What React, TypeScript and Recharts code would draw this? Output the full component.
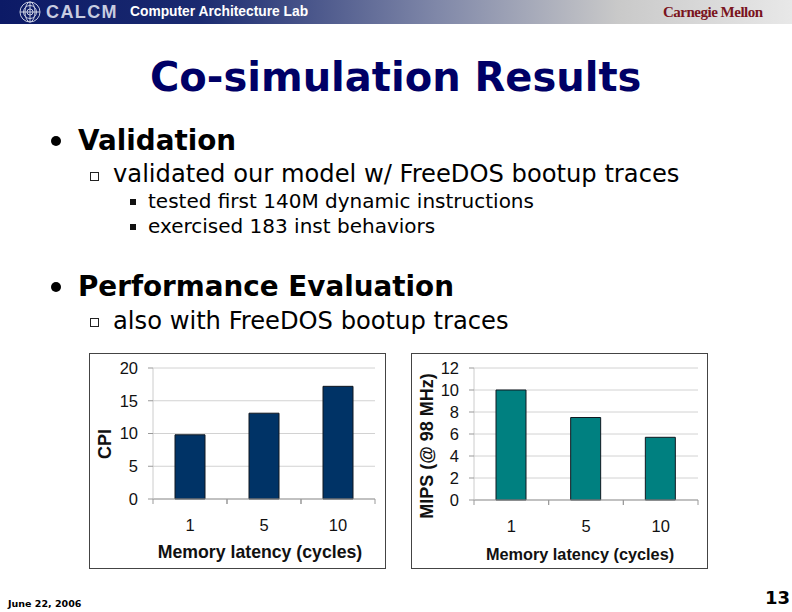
import React from 'react';
import { BarChart, Bar, CartesianGrid, XAxis, YAxis } from 'recharts';

const latencies = ['1', '5', '10'];
const cpiValues = [9.8, 13.1, 17.2];
const mipsValues = [10, 7.5, 5.7];
const cpiTicks = [0, 5, 10, 15, 20];
const mipsTicks = [0, 2, 4, 6, 8, 10, 12];

const cpiData = latencies.map((name, i) => ({ name, value: cpiValues[i] }));
const mipsData = latencies.map((name, i) => ({ name, value: mipsValues[i] }));

const SANS = '"Liberation Sans", Arial, sans-serif';
const SLIDE = '"DejaVu Sans", Verdana, sans-serif';

// category ticks sit between the bars, excel style
const CategoryTick = (props: any) => {
  const { x, y, payload, step } = props;
  return (
    <g>
      <line x1={x - step / 2} x2={x - step / 2} y1={y - 8} y2={y - 3} stroke="#999" />
      <line x1={x + step / 2} x2={x + step / 2} y1={y - 8} y2={y - 3} stroke="#999" />
      <text x={x} y={y + 24} textAnchor="middle" fontFamily={SANS} fontSize={16.5} fill="#111">
        {payload.value}
      </text>
    </g>
  );
};

interface PanelProps {
  left: number;
  data: { name: string; value: number }[];
  ticks: number[];
  max: number;
  fill: string;
  yLabel: string;
  xLabelSize: number;
  xLabelPos: { x: number; y: number };
  yLabelPos: { x: number; y: number };
  plotLeft: number;
  plotRight: number;
  plotBottom: number;
}

const Panel: React.FC<PanelProps> = ({ left, data, ticks, max, fill, yLabel, xLabelSize, xLabelPos, yLabelPos, plotLeft, plotRight, plotBottom }) => {
  const step = (297 - plotLeft - plotRight) / latencies.length;
  return (
    <div style={{ position: 'absolute', left, top: 353, width: 297, height: 216 }}>
      <div style={{ position: 'absolute', inset: 0, boxSizing: 'border-box', border: '1.5px solid #444' }} />
      <BarChart
        width={297}
        height={216}
        data={data}
        barSize={30}
        margin={{ top: 15, right: plotRight, bottom: 0, left: 0 }}
        style={{ position: 'absolute', left: 0, top: 0 }}
      >
        <CartesianGrid horizontal vertical={false} stroke="#d2d2d2" />
        <XAxis
          dataKey="name"
          height={plotBottom}
          axisLine={{ stroke: '#999' }}
          tickLine={false}
          interval={0}
          tick={<CategoryTick step={step} />}
          label={{
            value: 'Memory latency (cycles)',
            position: xLabelPos,
            textAnchor: 'middle',
            fontFamily: SANS,
            fontSize: xLabelSize,
            fontWeight: 700,
            fill: '#111',
          }}
        />
        <YAxis
          width={plotLeft}
          domain={[0, max]}
          ticks={ticks}
          interval={0}
          axisLine={{ stroke: '#ccc' }}
          tickLine={{ stroke: '#999' }}
          tickSize={5}
          tickMargin={10}
          tick={{ fontFamily: SANS, fontSize: 16.5, fill: '#111' }}
          label={{
            value: yLabel,
            angle: -90,
            position: yLabelPos,
            textAnchor: 'middle',
            fontFamily: SANS,
            fontSize: 18,
            fontWeight: 700,
            fill: '#111',
          }}
        />
        <Bar dataKey="value" fill={fill} stroke="#101820" strokeWidth={1} isAnimationActive={false} />
      </BarChart>
    </div>
  );
};

const Line: React.FC<{ x: number; y: number; size: number; bold?: boolean; color?: string; font?: string; spacing?: number; children: React.ReactNode }> = ({ x, y, size, bold, color, font, spacing, children }) => (
  <div
    style={{
      position: 'absolute',
      left: x,
      top: y - size,
      height: size * 2,
      lineHeight: `${size * 2}px`,
      fontFamily: font || SLIDE,
      fontSize: size,
      fontWeight: bold ? 700 : 400,
      letterSpacing: spacing || 0,
      color: color || '#000',
      whiteSpace: 'nowrap',
    }}
  >
    {children}
  </div>
);

const Box: React.FC<{ x: number; y: number; size: number; hollow?: boolean }> = ({ x, y, size, hollow }) => (
  <div
    style={{
      position: 'absolute',
      left: x,
      top: y,
      width: size,
      height: size,
      boxSizing: 'border-box',
      background: hollow ? 'transparent' : '#111',
      border: hollow ? '1px solid #222' : 'none',
    }}
  />
);

const Dot: React.FC<{ x: number; y: number }> = ({ x, y }) => (
  <div style={{ position: 'absolute', left: x, top: y, width: 10, height: 10, borderRadius: 5, background: '#000' }} />
);

const App: React.FC = () => (
  <div style={{ position: 'absolute', left: 0, top: 0, width: 792, height: 612, background: '#fff', overflow: 'hidden' }}>
    <div
      style={{
        position: 'absolute',
        left: 0,
        top: 0,
        width: 792,
        height: 24,
        background: 'linear-gradient(90deg, #0c1a66 0%, #1a2a70 25%, #7f87a8 55%, #c9c9c9 78%, #e8e8e8 100%)',
      }}
    />
    <svg style={{ position: 'absolute', left: 19, top: 1 }} width={22} height={22}>
      <g fill="none" stroke="#c8cde0" strokeWidth={1}>
        <circle cx={11} cy={11} r={10} />
        <circle cx={11} cy={11} r={6.5} />
        <circle cx={11} cy={11} r={3} />
        <ellipse cx={11} cy={11} rx={5} ry={10} />
        <path d="M1 11H21M11 1V21" />
      </g>
    </svg>
    <Line x={46} y={12} size={18} bold color="#c8cce0" font={SANS} spacing={1.4}>CALCM</Line>
    <Line x={130} y={12} size={13.8} bold color="#fff" font={SANS}>Computer Architecture Lab</Line>
    <Line x={663} y={12} size={15} bold color="#7a1420" font='"Liberation Serif", serif' spacing={-0.5}>Carnegie Mellon</Line>

    <Line x={150} y={77} size={40} bold color="#000066">Co-simulation Results</Line>

    <Dot x={51} y={136} />
    <Line x={78} y={141} size={27.8} bold>Validation</Line>
    <Box x={90} y={172} size={9} hollow />
    <Line x={113} y={174} size={24.2}>validated our model w/ FreeDOS bootup traces</Line>
    <Box x={130} y={199} size={6} />
    <Line x={148} y={201} size={20}>tested first 140M dynamic instructions</Line>
    <Box x={130} y={224} size={6} />
    <Line x={148} y={226} size={20}>exercised 183 inst behaviors</Line>

    <Dot x={51} y={282} />
    <Line x={78} y={287} size={27.8} bold>Performance Evaluation</Line>
    <Box x={90} y={318} size={9} hollow />
    <Line x={113} y={321} size={24.2}>also with FreeDOS bootup traces</Line>

    <Panel
      left={89}
      data={cpiData}
      ticks={cpiTicks}
      max={20}
      fill="#003366"
      yLabel="CPI"
      xLabelSize={17.7}
      xLabelPos={{ x: 107, y: 59 }}
      yLabelPos={{ x: 22, y: 76 }}
      plotLeft={64}
      plotRight={11}
      plotBottom={70}
    />
    <Panel
      left={411}
      data={mipsData}
      ticks={mipsTicks}
      max={12}
      fill="#008080"
      yLabel="MIPS (@ 98 MHz)"
      xLabelSize={16.3}
      xLabelPos={{ x: 106, y: 60 }}
      yLabelPos={{ x: 22, y: 78 }}
      plotLeft={63}
      plotRight={10}
      plotBottom={69}
    />

    <Line x={8} y={603} size={9.5} bold>June 22, 2006</Line>
    <Line x={765} y={598} size={18} bold>13</Line>
  </div>
);

export default App;
